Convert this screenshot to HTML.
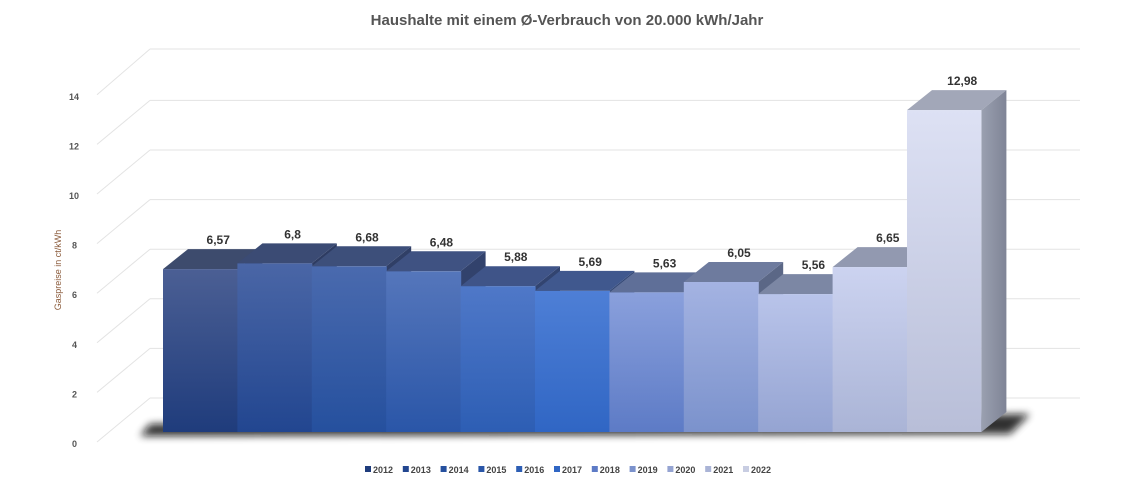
<!DOCTYPE html><html><head><meta charset="utf-8"><style>body{margin:0;background:#fff}svg{display:block;font-family:"Liberation Sans",sans-serif}</style></head><body>
<svg width="1134" height="486" viewBox="0 0 1134 486">
<defs>
<filter id="bl" x="-20%" y="-300%" width="140%" height="700%"><feGaussianBlur stdDeviation="4"/></filter>
<linearGradient id="sd" x1="0" y1="0" x2="1" y2="0"><stop offset="0" stop-color="#9aa0b0"/><stop offset="1" stop-color="#7f8496"/></linearGradient>
<linearGradient id="g0" x1="0" y1="0" x2="0" y2="1"><stop offset="0" stop-color="#4b5f94"/><stop offset="1" stop-color="#1f3c7c"/></linearGradient>
<linearGradient id="g1" x1="0" y1="0" x2="0" y2="1"><stop offset="0" stop-color="#4a66a6"/><stop offset="1" stop-color="#224690"/></linearGradient>
<linearGradient id="g2" x1="0" y1="0" x2="0" y2="1"><stop offset="0" stop-color="#4a6aae"/><stop offset="1" stop-color="#25509e"/></linearGradient>
<linearGradient id="g3" x1="0" y1="0" x2="0" y2="1"><stop offset="0" stop-color="#5576bb"/><stop offset="1" stop-color="#2a56a8"/></linearGradient>
<linearGradient id="g4" x1="0" y1="0" x2="0" y2="1"><stop offset="0" stop-color="#4f78c8"/><stop offset="1" stop-color="#2d5eb4"/></linearGradient>
<linearGradient id="g5" x1="0" y1="0" x2="0" y2="1"><stop offset="0" stop-color="#4e7fd6"/><stop offset="1" stop-color="#3066c4"/></linearGradient>
<linearGradient id="g6" x1="0" y1="0" x2="0" y2="1"><stop offset="0" stop-color="#8aa0dc"/><stop offset="1" stop-color="#5d7bc6"/></linearGradient>
<linearGradient id="g7" x1="0" y1="0" x2="0" y2="1"><stop offset="0" stop-color="#a4b3e2"/><stop offset="1" stop-color="#7b92cc"/></linearGradient>
<linearGradient id="g8" x1="0" y1="0" x2="0" y2="1"><stop offset="0" stop-color="#b9c4ea"/><stop offset="1" stop-color="#95a4d2"/></linearGradient>
<linearGradient id="g9" x1="0" y1="0" x2="0" y2="1"><stop offset="0" stop-color="#ccd3f0"/><stop offset="1" stop-color="#aab4d6"/></linearGradient>
<linearGradient id="g10" x1="0" y1="0" x2="0" y2="1"><stop offset="0" stop-color="#dde1f4"/><stop offset="1" stop-color="#b8bed8"/></linearGradient>
</defs>
<text x="567" y="25" text-anchor="middle" font-size="15" font-weight="bold" fill="#555">Haushalte mit einem Ø-Verbrauch von 20.000 kWh/Jahr</text>
<g stroke="#e3e3e3" stroke-width="1" fill="none">
<line x1="97" y1="442" x2="150" y2="398"/><line x1="150" y1="398" x2="1080" y2="398"/>
<line x1="97" y1="392.4" x2="150" y2="348.4"/><line x1="150" y1="348.4" x2="1080" y2="348.4"/>
<line x1="97" y1="342.8" x2="150" y2="298.8"/><line x1="150" y1="298.8" x2="1080" y2="298.8"/>
<line x1="97" y1="293.2" x2="150" y2="249.2"/><line x1="150" y1="249.2" x2="1080" y2="249.2"/>
<line x1="97" y1="243.6" x2="150" y2="199.6"/><line x1="150" y1="199.6" x2="1080" y2="199.6"/>
<line x1="97" y1="194" x2="150" y2="150"/><line x1="150" y1="150" x2="1080" y2="150"/>
<line x1="97" y1="144.4" x2="150" y2="100.4"/><line x1="150" y1="100.4" x2="1080" y2="100.4"/>
<line x1="97" y1="94.8" x2="150" y2="49"/><line x1="150" y1="49" x2="1080" y2="49"/>
</g>
<g font-size="9" font-weight="bold" fill="#555">
<text x="72" y="447">0</text><text x="72" y="397.4">2</text><text x="72" y="347.8">4</text><text x="72" y="298.2">6</text><text x="72" y="248.6">8</text><text x="69" y="199">10</text><text x="69" y="149.4">12</text><text x="69" y="99.8">14</text>
</g>
<text transform="translate(61,270) rotate(-90)" text-anchor="middle" font-size="9" fill="#8a5a3a">Gaspreise in ct/kWh</text>
<polygon points="150,424 1030,414 1010,434 140,436" fill="#111" filter="url(#bl)" opacity="0.85"/>
<g font-size="12" font-weight="bold" fill="#333" text-anchor="middle">
<polygon points="237.4,269.1 262.4,249.1 262.4,412 237.4,432" fill="#2e3b5e"/><polygon points="163,269.1 188,249.1 262.4,249.1 237.4,269.1" fill="#3d4b6d"/><rect x="163" y="269.1" width="75" height="162.9" fill="url(#g0)"/><text x="218.2" y="244.1">6,57</text>
<polygon points="311.8,263.4 336.8,243.4 336.8,412 311.8,432" fill="#2e3c62"/><polygon points="237.4,263.4 262.4,243.4 336.8,243.4 311.8,263.4" fill="#3b4b74"/><rect x="237.4" y="263.4" width="75" height="168.6" fill="url(#g1)"/><text x="292.6" y="238.4">6,8</text>
<polygon points="386.2,266.3 411.2,246.3 411.2,412 386.2,432" fill="#303f66"/><polygon points="311.8,266.3 336.8,246.3 411.2,246.3 386.2,266.3" fill="#3d4f7a"/><rect x="311.8" y="266.3" width="75" height="165.7" fill="url(#g2)"/><text x="367" y="241.3">6,68</text>
<polygon points="460.6,271.3 485.6,251.3 485.6,412 460.6,432" fill="#32426c"/><polygon points="386.2,271.3 411.2,251.3 485.6,251.3 460.6,271.3" fill="#3f5282"/><rect x="386.2" y="271.3" width="75" height="160.7" fill="url(#g3)"/><text x="441.4" y="246.3">6,48</text>
<polygon points="535,286.2 560,266.2 560,412 535,432" fill="#324470"/><polygon points="460.6,286.2 485.6,266.2 560,266.2 535,286.2" fill="#3f5488"/><rect x="460.6" y="286.2" width="75" height="145.8" fill="url(#g4)"/><text x="515.8" y="261.2">5,88</text>
<polygon points="609.4,290.9 634.4,270.9 634.4,412 609.4,432" fill="#334876"/><polygon points="535,290.9 560,270.9 634.4,270.9 609.4,290.9" fill="#40588e"/><rect x="535" y="290.9" width="75" height="141.1" fill="url(#g5)"/><text x="590.2" y="265.9">5,69</text>
<polygon points="683.8,292.4 708.8,272.4 708.8,412 683.8,432" fill="#4d5b80"/><polygon points="609.4,292.4 634.4,272.4 708.8,272.4 683.8,292.4" fill="#5f6f98"/><rect x="609.4" y="292.4" width="75" height="139.6" fill="url(#g6)"/><text x="664.6" y="267.4">5,63</text>
<polygon points="758.2,282 783.2,262 783.2,412 758.2,432" fill="#5b6786"/><polygon points="683.8,282 708.8,262 783.2,262 758.2,282" fill="#6e7b9e"/><rect x="683.8" y="282" width="75" height="150" fill="url(#g7)"/><text x="739" y="257">6,05</text>
<polygon points="832.6,294.1 857.6,274.1 857.6,412 832.6,432" fill="#68728c"/><polygon points="758.2,294.1 783.2,274.1 857.6,274.1 832.6,294.1" fill="#7c87a4"/><rect x="758.2" y="294.1" width="75" height="137.9" fill="url(#g8)"/><text x="813.4" y="269.1">5,56</text>
<polygon points="907,267.1 932,247.1 932,412 907,432" fill="#7c8298"/><polygon points="832.6,267.1 857.6,247.1 932,247.1 907,267.1" fill="#9299b0"/><rect x="832.6" y="267.1" width="75" height="164.9" fill="url(#g9)"/><text x="887.8" y="242.1">6,65</text>
<polygon points="907,110.1 932,90.1 1006.4,90.1 981.4,110.1" fill="#a2a7b8"/><polygon points="981.4,110.1 1006.4,90.1 1006.4,412 981.4,432" fill="url(#sd)"/><rect x="907" y="110.1" width="74.4" height="321.9" fill="url(#g10)"/><text x="962.2" y="85.1">12,98</text>
</g>
<g font-size="9" font-weight="bold" fill="#444">
<rect x="365" y="466" width="6" height="6" fill="#1f3c7c"/><text x="373" y="473">2012</text>
<rect x="402.8" y="466" width="6" height="6" fill="#224690"/><text x="410.8" y="473">2013</text>
<rect x="440.6" y="466" width="6" height="6" fill="#25509e"/><text x="448.6" y="473">2014</text>
<rect x="478.4" y="466" width="6" height="6" fill="#2a56a8"/><text x="486.4" y="473">2015</text>
<rect x="516.2" y="466" width="6" height="6" fill="#2d5eb4"/><text x="524.2" y="473">2016</text>
<rect x="554" y="466" width="6" height="6" fill="#3066c4"/><text x="562" y="473">2017</text>
<rect x="591.8" y="466" width="6" height="6" fill="#5d7bc6"/><text x="599.8" y="473">2018</text>
<rect x="629.6" y="466" width="6" height="6" fill="#7b92cc"/><text x="637.6" y="473">2019</text>
<rect x="667.4" y="466" width="6" height="6" fill="#95a4d2"/><text x="675.4" y="473">2020</text>
<rect x="705.2" y="466" width="6" height="6" fill="#aab4d6"/><text x="713.2" y="473">2021</text>
<rect x="743" y="466" width="6" height="6" fill="#c8cde2"/><text x="751" y="473">2022</text>
</g>
</svg></body></html>
